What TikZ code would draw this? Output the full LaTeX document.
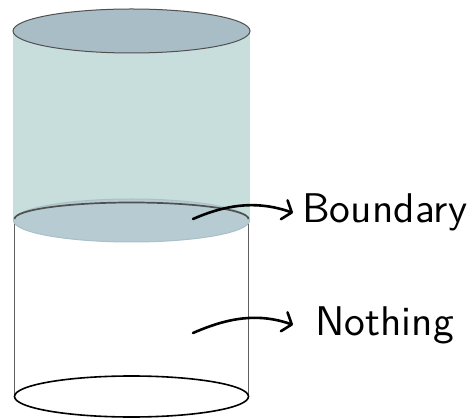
\documentclass[tikz,border=0pt]{standalone}
\usepackage{fontspec}
\usetikzlibrary{arrows.meta}
\newfontfamily\tagfont{lmsans10-regular.otf}
\definecolor{tealbody}{RGB}{200,222,221}
\definecolor{toptint}{RGB}{169,189,198}
\definecolor{disc}{RGB}{182,204,210}
\definecolor{discrim}{RGB}{168,192,198}
\definecolor{rimgray}{RGB}{80,80,80}
\definecolor{sidegray}{RGB}{95,95,95}
\tikzset{
  pointer/.style={line width=2.6pt, line cap=round,
    -{Straight Barb[length=8pt,width=20pt,line cap=round,line join=round]}},
  tag/.style={font=\tagfont\fontsize{41.5}{50}\selectfont, inner sep=0pt, anchor=base west}
}
\begin{document}
\begin{tikzpicture}[x=1pt,y=-1pt]
\useasboundingbox (0,0) rectangle (476,419);
% filled upper section of the cylinder
\fill[tealbody] (13,31) rectangle (250,220);
\filldraw[fill=toptint, draw=rimgray, line width=1pt] (131.5,31) ellipse [x radius=118.5, y radius=22];
% empty lower section
\draw[sidegray, line width=1.6pt] (14.5,219) -- (14.5,396.5);
\draw[sidegray, line width=1.6pt] (248.5,219) -- (248.5,396.5);
\draw[black, line width=1.6pt] (131.5,396.5) ellipse [x radius=117, y radius=20.5];
% boundary disc with the back rim of the lower section
\filldraw[fill=disc, draw=discrim, line width=1pt] (131.5,220.5) ellipse [x radius=118, y radius=21.5];
\draw[rimgray, line width=1.7pt] (14.5,219) arc [start angle=180, end angle=360, x radius=117, y radius=16.5];
% labels
\node[tag] (bnd) at (302,223) {Boundary};
\node[tag] (nth) at (315,335) {Nothing};
\coordinate (s1) at (193,219);
\coordinate (s2) at (193,333);
\coordinate (t1) at ([xshift=-9pt]bnd.west);
\coordinate (t2) at ([xshift=-22pt]nth.west);
\draw[pointer] (s1) .. controls ([shift={(32,-14)}]s1) and ([shift={(-37,-13)}]t1) .. (t1);
\draw[pointer] (s2) .. controls ([shift={(32,-14)}]s2) and ([shift={(-37,-13)}]t2) .. (t2);
\end{tikzpicture}
\end{document}
